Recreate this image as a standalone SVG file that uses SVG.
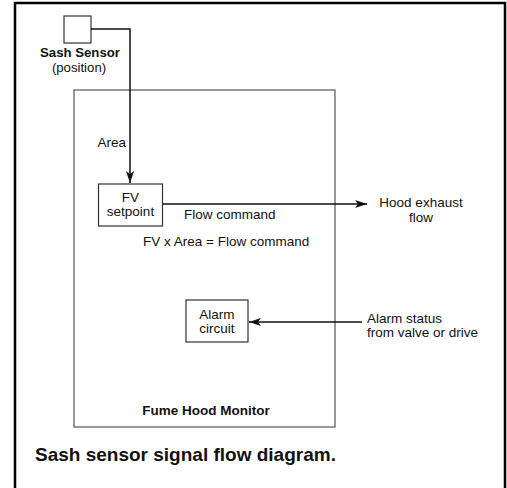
<svg xmlns="http://www.w3.org/2000/svg" width="507" height="488" viewBox="0 0 507 488">
<defs>
<style>
text{font-family:"Liberation Sans",Arial,sans-serif;font-size:13.5px;fill:#111}
.b{font-weight:bold}
.m{text-anchor:middle}
.box{fill:#fff;stroke:#333;stroke-width:1.2}
.wire{fill:none;stroke:#111;stroke-width:1.5}
</style>
<marker id="ah" viewBox="0 0 12 8" refX="12" refY="4" markerWidth="12" markerHeight="8" markerUnits="userSpaceOnUse" orient="auto">
<path d="M0,0 L12,4 L0,8 L3,4 Z" fill="#111"/>
</marker>
</defs>
<rect x="0" y="0" width="507" height="488" fill="#fff"/>
<path d="M15,490 V3 H505 V490" fill="none" stroke="#000" stroke-width="2.5"/>
<g id="monitor">
<rect x="74" y="90" width="261" height="337" fill="none" stroke="#555" stroke-width="1.2"/>
<text class="b m" x="206" y="415">Fume Hood Monitor</text>
</g>
<g id="sensor">
<rect class="box" x="64" y="16" width="27" height="27"/>
<text class="b m" x="80" y="57" style="font-size:13.2px">Sash Sensor</text>
<text class="m" x="79" y="72" style="font-size:13.2px">(position)</text>
</g>
<g id="fv">
<rect class="box" x="98.5" y="184" width="64" height="42"/>
<text class="m" x="130.5" y="202">FV</text>
<text class="m" x="130.5" y="216">setpoint</text>
</g>
<g id="alarm">
<rect class="box" x="186" y="300" width="62" height="42"/>
<text class="m" x="217" y="319">Alarm</text>
<text class="m" x="217" y="333">circuit</text>
</g>
<g id="exhaust">
<text class="m" x="421" y="207">Hood exhaust</text>
<text class="m" x="421" y="222">flow</text>
</g>
<g id="status">
<text x="367" y="323">Alarm status</text>
<text x="367" y="337">from valve or drive</text>
</g>
<g id="connectors">
<path class="wire" d="M91,29 H130 V183" marker-end="url(#ah)"/>
<path class="wire" d="M162.5,204 H367" marker-end="url(#ah)"/>
<path class="wire" d="M362,322 H249" marker-end="url(#ah)"/>
<text x="126" y="147" text-anchor="end">Area</text>
<text x="184" y="219">Flow command</text>
<text x="143" y="246">FV x Area = Flow command</text>
</g>
<text class="b" x="35" y="461" style="font-size:19px">Sash sensor signal flow diagram.</text>
</svg>
